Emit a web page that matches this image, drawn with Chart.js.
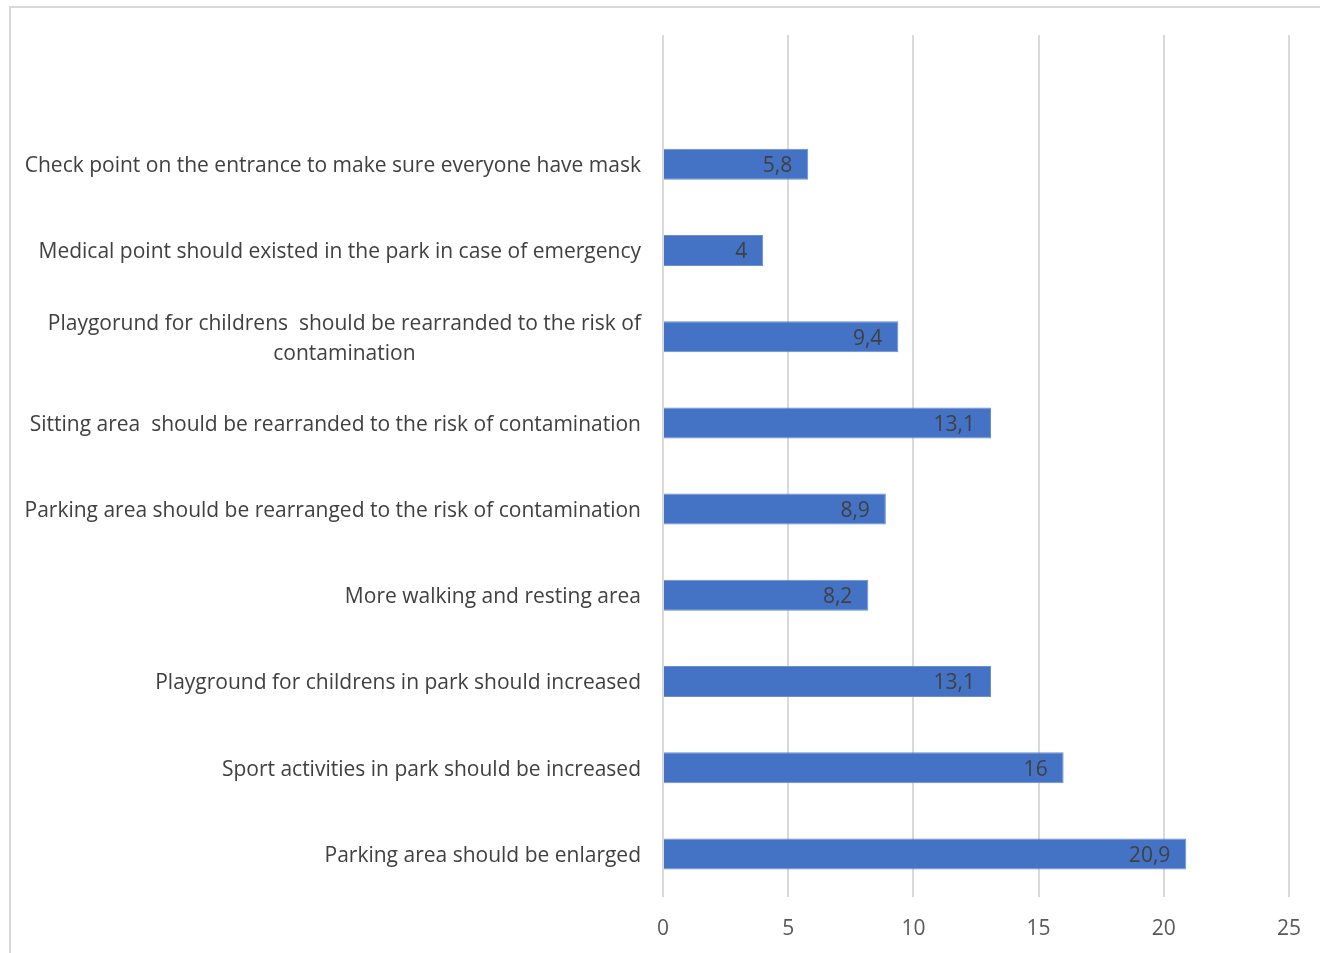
<!DOCTYPE html>
<html>
<head>
<meta charset="utf-8">
<script src="https://cdn.jsdelivr.net/npm/chart.js@4/dist/chart.umd.min.js"></script>
<style>
  html, body { margin: 0; padding: 0; background: #fff; overflow: hidden; }
  #wrap { position: relative; width: 1320px; height: 953px; }
  #frame { position: absolute; left: 9px; top: 6px; right: -5px; bottom: -5px;
           border-left: 2px solid #d9d9d9; border-top: 2px solid #d9d9d9; pointer-events: none; }
  canvas { position: absolute; left: 0; top: 0; }
</style>
</head>
<body>
<div id="wrap">
  <canvas id="chart" width="1320" height="953"></canvas>
  <div id="frame"></div>
</div>
<script>
// categories, top slot is empty in the original
const categories = [
    '',
    'Check point on the entrance to make sure everyone have mask',
    'Medical point should existed in the park in case of emergency',
    ['Playgorund for childrens  should be rearranded to the risk of', 'contamination'],
    'Sitting area  should be rearranded to the risk of contamination',
    'Parking area should be rearranged to the risk of contamination',
    'More walking and resting area',
    'Playground for childrens in park should increased',
    'Sport activities in park should be increased',
    'Parking area should be enlarged'
];
const values = [null, 5.8, 4, 9.4, 13.1, 8.9, 8.2, 13.1, 16, 20.9];
const xTicks = [0, 5, 10, 15, 20, 25];

const FONT = '"Open Sans", sans-serif';
const SIZE = 21;

// y labels: right aligned, multi-line ones centered on their widest line
const yLabelPlugin = {
    id: 'yLabels',
    afterDraw(chart) {
        const ctx = chart.ctx;
        const ys = chart.scales.y;
        ctx.save();
        ctx.font = SIZE + 'px ' + FONT;
        ctx.fillStyle = '#404040';
        ctx.textBaseline = 'middle';
        ctx.textAlign = 'center';
        categories.forEach((lab, i) => {
            const lines = Array.isArray(lab) ? lab : [lab];
            const cy = ys.getPixelForTick(i) + 2;
            const widest = Math.max(...lines.map(l => ctx.measureText(l).width));
            const right = ys.right - 22;
            lines.forEach((l, k) => {
                ctx.fillText(l, right - widest / 2, cy + (k - (lines.length - 1) / 2) * 30);
            });
        });
        ctx.restore();
    }
};

// value labels at the inside end of each bar
const valueLabelPlugin = {
    id: 'valueLabels',
    afterDatasetsDraw(chart) {
        const ctx = chart.ctx;
        const meta = chart.getDatasetMeta(0);
        ctx.save();
        ctx.font = SIZE + 'px ' + FONT;
        ctx.fillStyle = '#404040';
        ctx.textBaseline = 'middle';
        ctx.textAlign = 'right';
        meta.data.forEach((bar, i) => {
            if (values[i] == null) return;
            ctx.fillText(String(values[i]).replace('.', ','), bar.x - 16, bar.y + 2);
        });
        ctx.restore();
    }
};

const ctx = document.getElementById('chart').getContext('2d');
new Chart(ctx, {
    type: 'bar',
    data: {
        labels: categories,
        datasets: [{
            data: values,
            backgroundColor: '#4472C4',
            borderColor: '#6a8fd3',
            borderWidth: 1,
            barPercentage: 0.36,
            categoryPercentage: 1
        }]
    },
    options: {
        indexAxis: 'y',
        responsive: false,
        animation: false,
        devicePixelRatio: 1,
        layout: { padding: { left: 0, right: 30, top: 35, bottom: 0 } },
        plugins: {
            legend: { display: false },
            tooltip: { enabled: false }
        },
        scales: {
            x: {
                min: 0,
                max: 25,
                afterBuildTicks: (scale) => { scale.ticks = xTicks.map(v => ({ value: v })); },
                grid: { color: '#d9d9d9', lineWidth: 2, drawTicks: false },
                border: { display: false },
                ticks: {
                    padding: 19,
                    color: '#595959',
                    font: { family: FONT, size: SIZE }
                },
                afterFit: (scale) => { scale.height = 56; }
            },
            y: {
                grid: { display: false },
                border: { display: false },
                ticks: { display: false },
                afterFit: (scale) => { scale.width = 663; }
            }
        }
    },
    plugins: [yLabelPlugin, valueLabelPlugin]
});
</script>
</body>
</html>
